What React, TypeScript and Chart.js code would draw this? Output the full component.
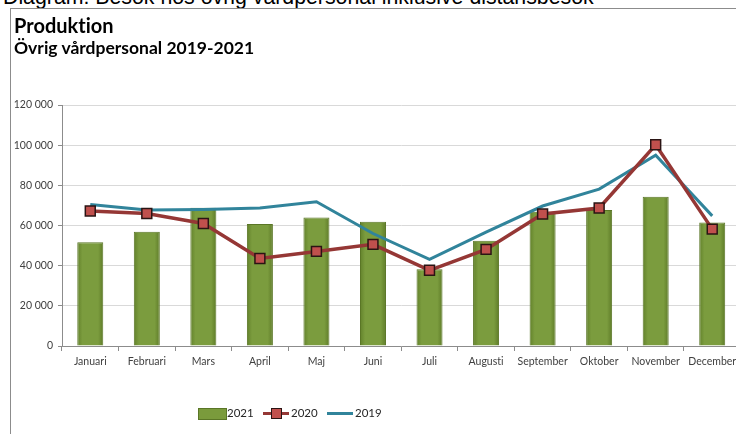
import React, { useEffect, useRef } from "react";
import { Chart, registerables } from "chart.js";

Chart.register(...registerables);

const months = ["Januari", "Februari", "Mars", "April", "Maj", "Juni", "Juli", "Augusti", "September", "Oktober", "November", "December"];
const values2021 = [51600, 56900, 68800, 60700, 64000, 61900, 38200, 52400, 66800, 67700, 74300, 61500];
const values2020 = [67200, 66000, 61000, 43600, 47100, 50600, 37700, 48100, 65700, 68700, 100200, 58200];
const values2019 = [70500, 67700, 68000, 68700, 71800, 56000, 43100, 56700, 69700, 78100, 95000, 64800];
const yMax = 120000;
const yStep = 20000;

const FONT = "Lato, 'Open Sans', sans-serif";

function fmt(v: number): string {
  if (v === 0) return "0";
  return `${Math.round(v / 1000)} 000`;
}

const noLigatures = {
  id: "noLigatures",
  beforeDraw(chart: any) {
    try {
      chart.ctx.letterSpacing = "0.01px";
    } catch (e) {
      /* ignore */
    }
  },
};

export default function App() {
  const ref = useRef<HTMLCanvasElement | null>(null);

  useEffect(() => {
    if (!ref.current) return;
    const chart = new Chart(ref.current, {
      type: "bar",
      plugins: [noLigatures],
      data: {
        labels: months,
        datasets: [
          {
            type: "bar",
            label: "2021",
            data: values2021,
            order: 3,
            backgroundColor: (c: any) => {
              const ch = c.chart;
              const xs = ch.scales && ch.scales.x;
              if (!xs || c.dataIndex === undefined) return "#7A9B3C";
              const x = xs.getPixelForValue(c.dataIndex);
              if (!Number.isFinite(x)) return "#7A9B3C";
              const g = ch.ctx.createLinearGradient(x - 13, 0, x + 13, 0);
              g.addColorStop(0, "#62812B");
              g.addColorStop(0.2, "#7B9C3E");
              g.addColorStop(0.8, "#7B9C3E");
              g.addColorStop(1, "#5E7B28");
              return g;
            },
            borderColor: "#5A7626",
            borderWidth: 1,
            barPercentage: 0.46,
            categoryPercentage: 1,
          },
          {
            type: "line",
            label: "2020",
            data: values2020,
            order: 1,
            borderColor: "#953735",
            borderWidth: 3.5,
            pointStyle: "rect",
            pointRadius: 7,
            pointBackgroundColor: "#C0504D",
            pointBorderColor: "#2A1414",
            pointBorderWidth: 1.5,
            tension: 0,
          },
          {
            type: "line",
            label: "2019",
            data: values2019,
            order: 2,
            borderColor: "#31849B",
            borderWidth: 3,
            pointRadius: 0,
            tension: 0,
          },
        ],
      },
      options: {
        responsive: false,
        animation: false,
        devicePixelRatio: 1,
        layout: { padding: { top: 105, left: 0, right: 0, bottom: 0 } },
        plugins: {
          legend: { display: false },
          title: { display: false },
          tooltip: { enabled: false },
        },
        scales: {
          x: {
            offset: true,
            afterFit: (s: any) => {
              s.height = 88;
            },
            grid: {
              offset: true,
              drawOnChartArea: false,
              drawTicks: true,
              tickLength: 5,
              tickColor: "#8C8C8C",
            },
            border: { display: true, color: "#8C8C8C", width: 1 },
            ticks: {
              color: "#404040",
              font: { family: FONT, size: 10.5 },
              padding: 4,
              maxRotation: 0,
              autoSkip: false,
            },
          },
          y: {
            min: 0,
            max: yMax,
            afterFit: (s: any) => {
              s.width = 62;
            },
            grid: {
              color: "#D9D9D9",
              drawTicks: true,
              tickLength: 4,
              tickColor: "#8C8C8C",
            },
            border: { display: true, color: "#8C8C8C", width: 1 },
            ticks: {
              stepSize: yStep,
              color: "#404040",
              font: { family: FONT, size: 10.5 },
              padding: 5,
              callback: (v: any) => fmt(Number(v)),
            },
          },
        },
      },
    });
    return () => chart.destroy();
  }, []);

  const legendText: React.CSSProperties = {
    position: "absolute",
    top: 407,
    fontFamily: FONT,
    fontSize: 11.5,
    lineHeight: "12px",
    color: "#262626",
  };

  return (
    <div
      style={{
        position: "fixed",
        left: 0,
        top: 0,
        width: 736,
        height: 434,
        overflow: "hidden",
        background: "#FFFFFF",
      }}
    >
      <div
        style={{
          position: "absolute",
          left: 3,
          top: -13,
          fontFamily: "'Liberation Sans', Arial, sans-serif",
          fontSize: 21.3,
          lineHeight: "21px",
          whiteSpace: "nowrap",
          color: "#000",
        }}
      >
        Diagram: Besök hos övrig vårdpersonal inklusive distansbesök
      </div>
      <div
        style={{
          position: "absolute",
          left: 10,
          top: 8,
          width: 800,
          height: 500,
          borderLeft: "1px solid #8C8C8C",
          borderTop: "1px solid #8C8C8C",
        }}
      />
      <canvas ref={ref} width={749} height={434} style={{ position: "absolute", left: 0, top: 0 }} />
      <div
        style={{
          position: "absolute",
          left: 14,
          top: 15,
          fontFamily: FONT,
          fontWeight: 700,
          fontSize: 20,
          lineHeight: "20px",
          color: "#000",
          whiteSpace: "nowrap",
          fontVariantLigatures: "none",
        }}
      >
        Produktion
      </div>
      <div
        style={{
          position: "absolute",
          left: 14,
          top: 39,
          fontFamily: FONT,
          fontWeight: 700,
          fontSize: 17.5,
          lineHeight: "17px",
          color: "#000",
          whiteSpace: "nowrap",
          fontVariantLigatures: "none",
        }}
      >
        Övrig vårdpersonal 2019-2021
      </div>
      <div
        style={{
          position: "absolute",
          left: 198,
          top: 408,
          width: 27,
          height: 10,
          background: "#7A9B3C",
          border: "1px solid #5A7626",
        }}
      />
      <div style={{ ...legendText, left: 227 }}>2021</div>
      <div style={{ position: "absolute", left: 263, top: 412, width: 26, height: 3, background: "#953735" }} />
      <div
        style={{
          position: "absolute",
          left: 271,
          top: 408,
          width: 9,
          height: 9,
          background: "#C0504D",
          border: "1px solid #2A1414",
        }}
      />
      <div style={{ ...legendText, left: 291 }}>2020</div>
      <div style={{ position: "absolute", left: 327, top: 412, width: 26, height: 3, background: "#31849B" }} />
      <div style={{ ...legendText, left: 355 }}>2019</div>
    </div>
  );
}
